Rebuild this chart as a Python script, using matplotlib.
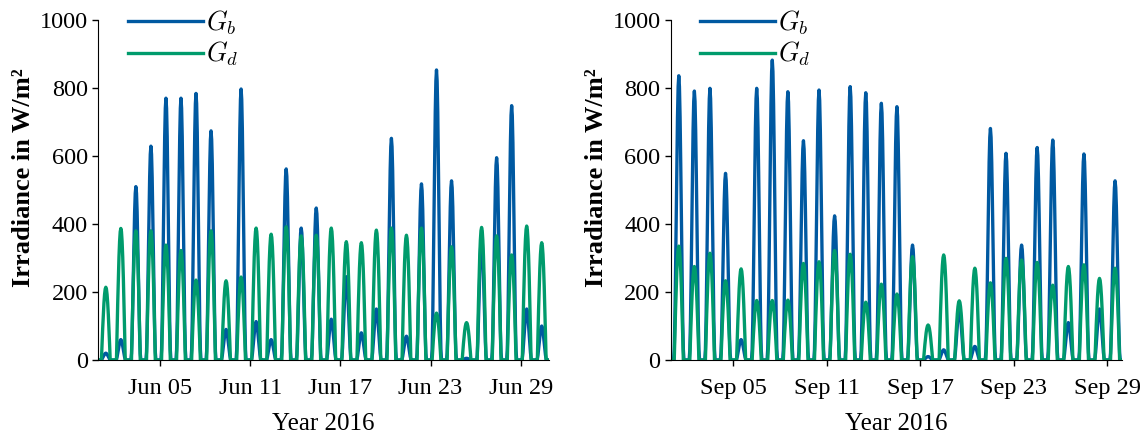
import numpy as np
import pandas as pd
import matplotlib
matplotlib.use("Agg")
import matplotlib.pyplot as plt
import matplotlib.dates as mdates

# daily peak values (W/m^2), one per day
jun_gb = [20, 60, 510, 629, 770, 770, 784, 674, 90, 797,
          113, 60, 562, 388, 447, 120, 245, 80, 150, 652,
          70, 518, 853, 527, 5, 365, 595, 748, 150, 100]
jun_gd = [214, 387, 380, 380, 338, 322, 235, 380, 233, 244,
          388, 370, 392, 365, 367, 388, 348, 345, 382, 388,
          367, 388, 138, 333, 110, 390, 365, 309, 394, 345]

sep_gb = [836, 791, 799, 549, 60, 799, 882, 789, 645, 794,
          424, 804, 786, 755, 745, 338, 10, 30, 150, 40,
          681, 608, 338, 625, 647, 110, 606, 150, 527]
sep_gd = [335, 275, 314, 233, 268, 175, 175, 176, 284, 289,
          322, 311, 170, 223, 194, 304, 103, 309, 174, 270,
          227, 299, 294, 287, 220, 275, 280, 240, 270]

# relative hourly profile over one day (hour 0..23)
shape_b = [0, 0, 0, 0, 0, .038, .146, .309, .5, .691, .854, .962,
           1, .962, .854, .691, .5, .309, .146, .038, 0, 0, 0, 0]
shape_d = [0, 0, 0, 0, 0, 0, .223, .434, .623, .782, .901, .975,
           1, .975, .901, .782, .623, .434, .223, 0, 0, 0, 0, 0]

jun_start = "2016-05-31 21:30"
sep_start = "2016-09-01 00:00"
tick_days = [5, 11, 17, 23, 29]

c_b = "#0059a1"
c_d = "#009b6c"

plt.rcParams["font.family"] = "serif"
plt.rcParams["font.serif"] = ["Liberation Serif", "DejaVu Serif"]
plt.rcParams["mathtext.fontset"] = "cm"


def hourly(peaks, shape):
    return np.outer(np.array(peaks, float), np.array(shape)).ravel()


fig = plt.figure(figsize=(11.47, 4.34), dpi=100)
ax1 = fig.add_axes([0.0857, 0.1705, 0.3926, 0.7834])
ax2 = fig.add_axes([0.585, 0.1705, 0.3934, 0.7834])

panels = [(ax1, jun_start, jun_gb, jun_gd, 0.066),
          (ax2, sep_start, sep_gb, sep_gd, 0.064)]

for ax, start, gb, gd, lx in panels:
    t = pd.date_range(start, periods=24 * len(gb), freq="h")
    ax.plot(t, hourly(gb, shape_b), color=c_b, lw=2.4, label="$G_b$")
    ax.plot(t, hourly(gd, shape_d), color=c_d, lw=2.4, label="$G_d$")

    ax.set_xlim(t[0], t[-1])
    ax.set_ylim(0, 1000)
    ax.set_yticks([0, 200, 400, 600, 800, 1000])
    ax.xaxis.set_major_locator(mdates.DayLocator(bymonthday=tick_days))
    ax.xaxis.set_major_formatter(mdates.DateFormatter("%b %d"))

    ax.spines["top"].set_visible(False)
    ax.spines["right"].set_visible(False)
    ax.tick_params(direction="out", length=4, width=1, labelsize=17.5)
    ax.tick_params(axis="x", pad=9)

    ax.set_xlabel("Year 2016", fontsize=18, labelpad=10)
    ax.set_ylabel("Irradiance in W/m²", fontsize=19, fontweight="bold")
    ax.yaxis.set_label_coords(-0.14, 0.535)

    ax.legend(loc="upper left", bbox_to_anchor=(lx, 1.035), frameon=False,
              fontsize=19, handlelength=2.85, borderpad=0, borderaxespad=0,
              labelspacing=0.12, handletextpad=0.1)

plt.savefig("out.png", dpi=100)
